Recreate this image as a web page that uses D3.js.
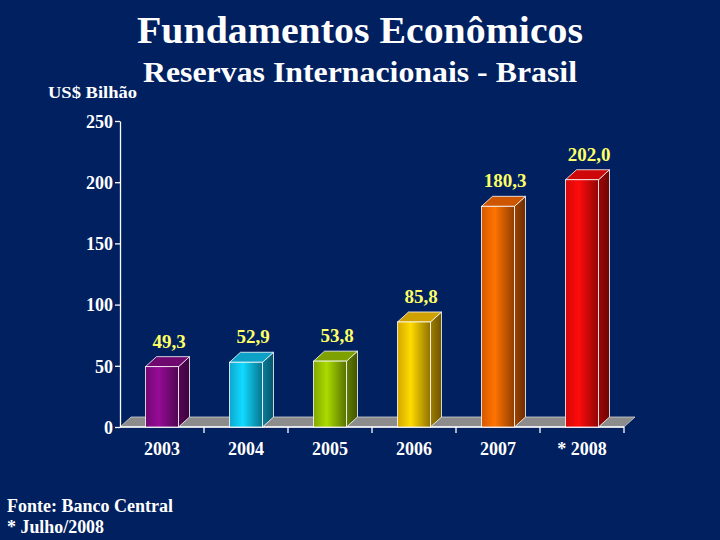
<!DOCTYPE html>
<html>
<head>
<meta charset="utf-8">
<script src="https://cdn.jsdelivr.net/npm/d3@7"></script>
<style>
  html, body { margin: 0; padding: 0; background: #002060; }
  svg { display: block; }
  text { font-family: "Liberation Serif", "Times New Roman", serif; font-weight: bold; fill: #fff; }
</style>
</head>
<body>
<svg id="chart" width="720" height="540"></svg>
<script>
// Chart data
const years = ['2003', '2004', '2005', '2006', '2007', '* 2008'];
const reserves = [49.3, 52.9, 53.8, 85.8, 180.3, 202.0];
const valueLabels = ['49,3', '52,9', '53,8', '85,8', '180,3', '202,0'];
const yTicks = [0, 50, 100, 150, 200, 250];
const barColors = ['#8a0a8a', '#10c8f8', '#9cc800', '#ffc800', '#ff6a00', '#ff0a0a'];

const svg = d3.select('#chart');
const W = 720, H = 540;

svg.append('rect').attr('width', W).attr('height', H).attr('fill', '#002060');

// Plot area
const margin = { left: 120, right: 96, top: 121, bottom: 113 };
const plotW = W - margin.left - margin.right;
const plotH = H - margin.top - margin.bottom;
const depth = { dx: 11, dy: -10 };

const x = d3.scaleBand().domain(years).range([0, plotW]).padding(0);
const y = d3.scaleLinear().domain([0, 250]).range([plotH, 0]);

const g = svg.append('g').attr('transform', `translate(${margin.left},${margin.top})`);

// Gradients for each bar
const defs = svg.append('defs');
barColors.forEach((c, i) => {
  const base = d3.color(c);
  const front = defs.append('linearGradient').attr('id', `front${i}`)
    .attr('x1', 0).attr('x2', 1).attr('y1', 0).attr('y2', 0);
  front.append('stop').attr('offset', '0%').attr('stop-color', base.darker(0.5));
  front.append('stop').attr('offset', '40%').attr('stop-color', base.brighter(0.25));
  front.append('stop').attr('offset', '100%').attr('stop-color', base.darker(1.6));
  const side = defs.append('linearGradient').attr('id', `side${i}`)
    .attr('x1', 0).attr('x2', 1).attr('y1', 0).attr('y2', 0);
  side.append('stop').attr('offset', '0%').attr('stop-color', base.darker(1.3));
  side.append('stop').attr('offset', '100%').attr('stop-color', base.darker(2.4));
});

// Floor
const floorPts = [[0, plotH], [plotW, plotH], [plotW + depth.dx, plotH + depth.dy], [depth.dx, plotH + depth.dy]];
g.append('polygon')
  .attr('points', floorPts.map(p => p.join(',')).join(' '))
  .attr('fill', '#8c8c8c')
  .attr('stroke', '#d0d0d0')
  .attr('stroke-width', 0.8);

// Axes
const yAxis = g.append('g').call(d3.axisLeft(y).tickValues(yTicks).tickSize(5).tickSizeOuter(0));
yAxis.select('.domain').attr('stroke', '#fff').attr('stroke-width', 1.3);
yAxis.selectAll('line').attr('stroke', '#fff').attr('stroke-width', 1.3);
yAxis.selectAll('text')
  .attr('fill', '#fff')
  .attr('x', -7)
  .attr('dy', '0.35em')
  .style('font-size', '18px')
  .style('font-family', '"Liberation Serif", serif')
  .style('font-weight', 'bold');

const xAxis = g.append('g').attr('transform', `translate(0,${plotH})`);
xAxis.append('line').attr('x1', 0).attr('x2', plotW).attr('stroke', '#fff').attr('stroke-width', 1.3);
xAxis.selectAll('.tick')
  .data(years)
  .enter().append('line')
  .attr('x1', d => x(d) + x.bandwidth())
  .attr('x2', d => x(d) + x.bandwidth())
  .attr('y1', 0).attr('y2', 6)
  .attr('stroke', '#fff').attr('stroke-width', 1.3);
xAxis.selectAll('.year')
  .data(years)
  .enter().append('text')
  .attr('x', d => x(d) + x.bandwidth() / 2)
  .attr('y', 28)
  .attr('text-anchor', 'middle')
  .style('font-size', '18px')
  .text(d => d);

// Bars
const barW = 33;
const bars = g.selectAll('.bar')
  .data(reserves)
  .enter().append('g')
  .attr('class', 'bar')
  .attr('transform', (d, i) => `translate(${x(years[i]) + x.bandwidth() / 2 - barW / 2},0)`);

// Side face
bars.append('polygon')
  .attr('points', d => [[barW, y(d)], [barW + depth.dx, y(d) + depth.dy], [barW + depth.dx, plotH + depth.dy], [barW, plotH]].map(p => p.join(',')).join(' '))
  .attr('fill', (d, i) => `url(#side${i})`)
  .attr('stroke', '#fff').attr('stroke-width', 0.8);

// Top face
bars.append('polygon')
  .attr('points', d => [[0, y(d)], [barW, y(d)], [barW + depth.dx, y(d) + depth.dy], [depth.dx, y(d) + depth.dy]].map(p => p.join(',')).join(' '))
  .attr('fill', (d, i) => d3.color(barColors[i]).darker(0.6))
  .attr('stroke', '#fff').attr('stroke-width', 0.8);

// Front face
bars.append('rect')
  .attr('x', 0)
  .attr('y', d => y(d))
  .attr('width', barW)
  .attr('height', d => plotH - y(d))
  .attr('fill', (d, i) => `url(#front${i})`)
  .attr('stroke', '#fff').attr('stroke-width', 0.8);

// Value labels
bars.append('text')
  .attr('x', barW / 2 + 7)
  .attr('y', d => y(d) - 19)
  .attr('text-anchor', 'middle')
  .style('fill', '#ffff66')
  .style('font-size', '19px')
  .text((d, i) => valueLabels[i]);

// Titles
svg.append('text')
  .attr('x', 137).attr('y', 43)
  .attr('textLength', 446)
  .attr('lengthAdjust', 'spacingAndGlyphs')
  .style('font-size', '37px')
  .text('Fundamentos Econômicos');

svg.append('text')
  .attr('x', 143).attr('y', 82)
  .attr('textLength', 434)
  .attr('lengthAdjust', 'spacingAndGlyphs')
  .style('font-size', '29px')
  .text('Reservas Internacionais - Brasil');

svg.append('text')
  .attr('x', 48).attr('y', 98)
  .attr('textLength', 89)
  .attr('lengthAdjust', 'spacingAndGlyphs')
  .style('font-size', '17px')
  .text('US$ Bilhão');

// Footnotes
svg.append('text')
  .attr('x', 7).attr('y', 512)
  .attr('textLength', 166)
  .attr('lengthAdjust', 'spacingAndGlyphs')
  .style('font-size', '18px')
  .text('Fonte: Banco Central');

svg.append('text')
  .attr('x', 7).attr('y', 533)
  .attr('textLength', 97)
  .attr('lengthAdjust', 'spacingAndGlyphs')
  .style('font-size', '18px')
  .text('* Julho/2008');
</script>
</body>
</html>
